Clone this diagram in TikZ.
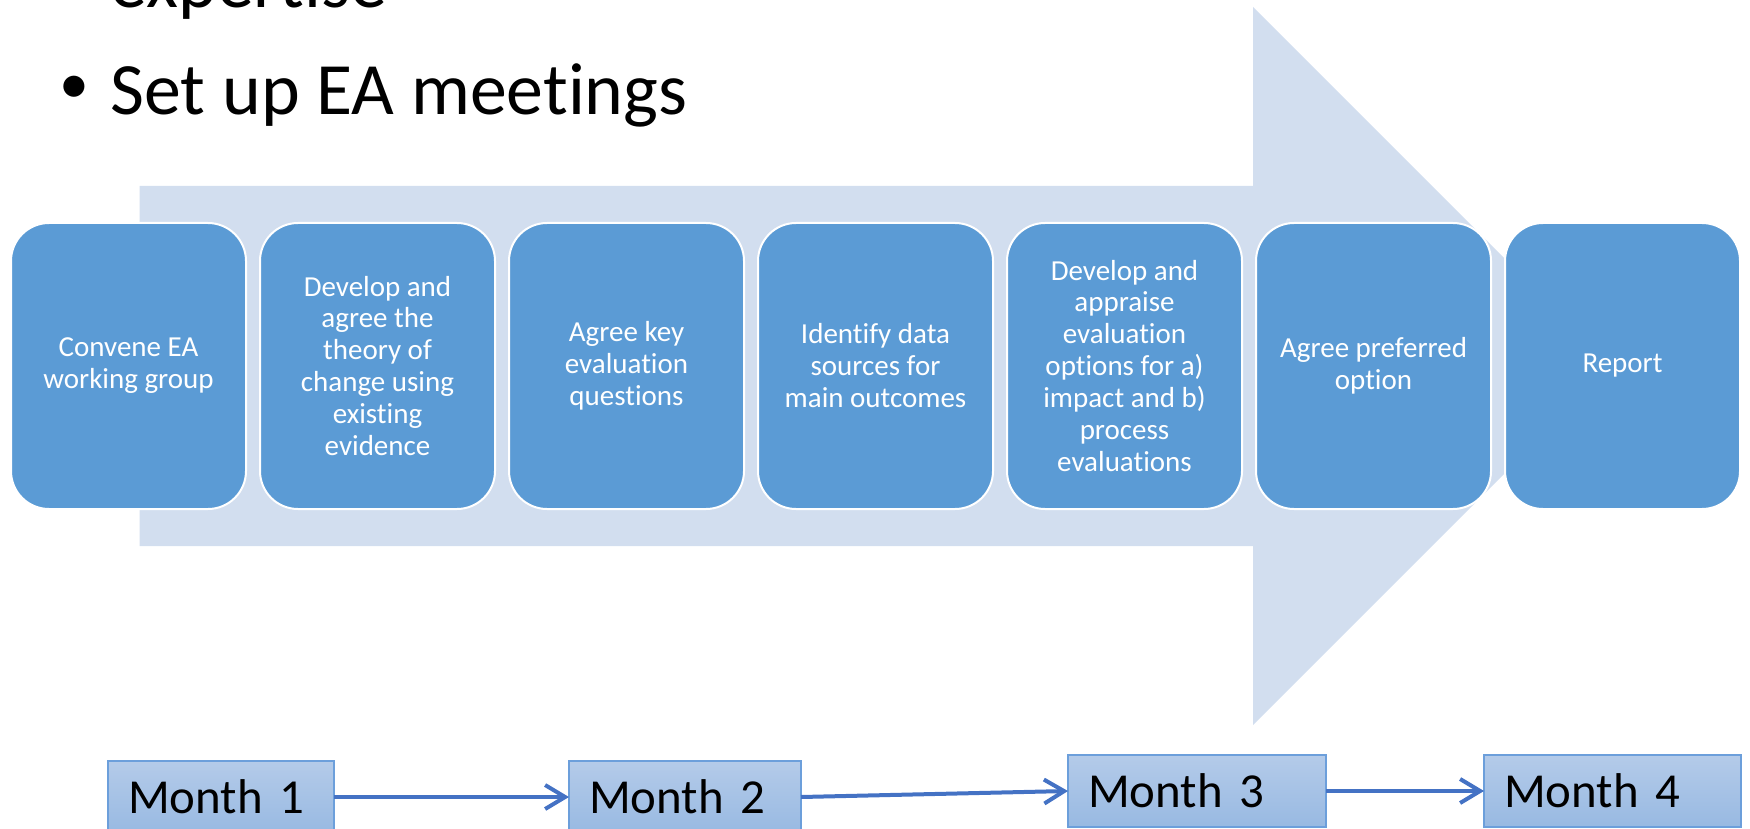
\documentclass[tikz,border=0pt]{standalone}
\usepackage{fontspec}
\setmainfont[Ligatures={NoCommon,NoContextual},Contextuals=NoAlternate]{Carlito}
\usetikzlibrary{positioning,arrows.meta}
\definecolor{stagefill}{HTML}{5B9BD5}
\definecolor{arrowbg}{HTML}{D2DEEF}
\definecolor{monthtop}{HTML}{B4CBE9}
\definecolor{monthbot}{HTML}{98B9E2}
\definecolor{monthline}{HTML}{6C9FDB}
\definecolor{linkblue}{HTML}{4472C4}
\begin{document}
\begin{tikzpicture}[
        stagebox/.style={draw=white, line width=0.02cm, fill=stagefill, rounded corners=0.38cm, minimum width=2.35cm, minimum height=2.86cm, outer sep=0pt, inner sep=0pt, align=center, text=white, font=\fontsize{8.25pt}{9.1pt}\selectfont},
        monthbox/.style={draw=monthline, top color=monthtop, bottom color=monthbot, anchor=north west, minimum height=0.72cm, inner xsep=0.2cm, inner ysep=0pt, outer sep=0pt, align=left, font=\fontsize{13.9pt}{16pt}\selectfont},
        bigtext/.style={inner sep=0pt, font=\fontsize{21pt}{25pt}\selectfont},
        link/.style={draw=linkblue, line width=0.04cm, -{Straight Barb[length=0.2cm,width=0.24cm]}}]
        \useasboundingbox (0,0) rectangle (17.5,8.28);
        \clip (0,0) rectangle (17.5,8.28);
        \node[bigtext, anchor=base west] (expert) at (1.10,8.20) {expertise};
        \node[bigtext, anchor=base west] (meet) at (1.10,7.13) {Set up EA meetings};
        \node[inner sep=0pt, font=\fontsize{17pt}{20pt}\selectfont] (bul) at (0.74,7.38) {•};
        \fill[arrowbg] (1.395,6.42) -- (12.53,6.42) -- (12.53,8.21) -- (16.12,4.62)
            -- (12.53,1.03) -- (12.53,2.82) -- (1.395,2.82) -- cycle;
        \node[stagebox] (s1) at (1.285,4.62) {Convene EA\\working group};
        \node[stagebox, right=0.14cm of s1] (s2) {Develop and\\agree the\\theory of\\change using\\existing\\evidence};
        \node[stagebox, right=0.14cm of s2] (s3) {Agree key\\evaluation\\questions};
        \node[stagebox, right=0.14cm of s3] (s4) {Identify data\\sources for\\main outcomes};
        \node[stagebox, right=0.14cm of s4] (s5) {Develop and\\appraise\\evaluation\\options for a)\\impact and b)\\process\\evaluations};
        \node[stagebox, right=0.14cm of s5] (s6) {Agree preferred\\option};
        \node[stagebox, right=0.14cm of s6] (s7) {Report};
        \node[monthbox, text width=1.86cm] (m1) at (1.08,0.67) {Month 1};
        \node[monthbox, text width=1.92cm] (m2) at (5.69,0.67) {Month 2};
        \node[monthbox, text width=2.18cm] (m3) at (10.68,0.73) {Month 3};
        \node[monthbox, text width=2.17cm] (m4) at (14.84,0.73) {Month 4};
        \draw[link] (m1) -- (m2);
        \draw[link] (m2.east) -- (m3.west);
        \draw[link] (m3) -- (m4);
\end{tikzpicture}
\end{document}
